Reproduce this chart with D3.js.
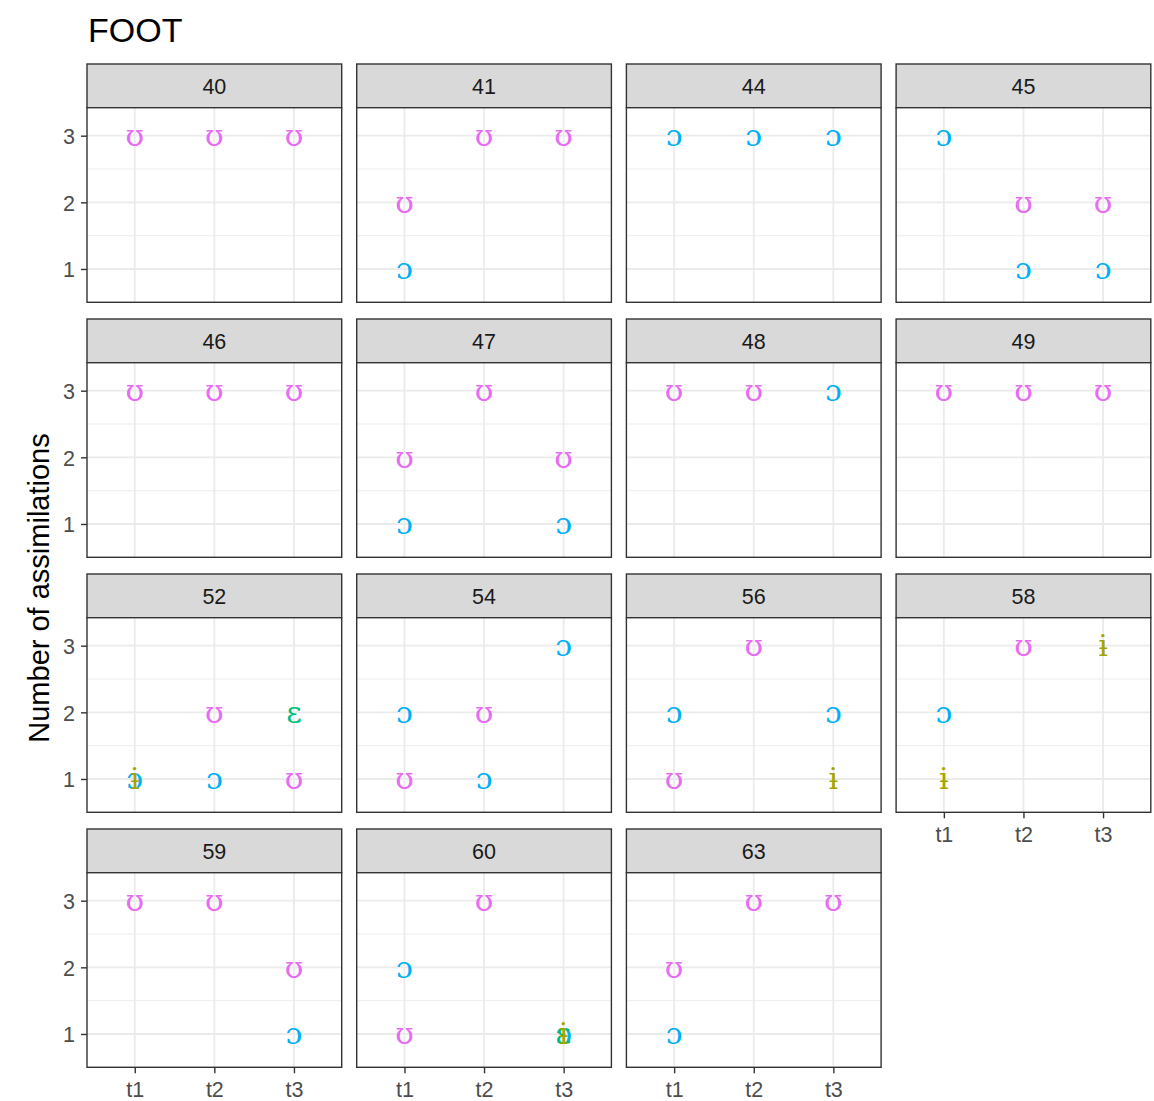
<!DOCTYPE html>
<html>
<head>
<meta charset="utf-8">
<script src="https://cdn.jsdelivr.net/npm/d3@7"></script>
<style>
  body { margin: 0; background: #fff; }
  svg text { font-family: "Liberation Sans", Arial, sans-serif; }
</style>
</head>
<body>
<svg id="chart" width="1154" height="1101"></svg>
<script>
const speakers = ["40", "41", "44", "45", "46", "47", "48", "49", "52", "54", "56", "58", "59", "60", "63"];
const times = ["t1", "t2", "t3"];
const yTicks = [1, 2, 3];
const yMinor = [1.5, 2.5];
const vowels = ["ɨ", "ɛ", "ɔ", "ʊ"];
const vowelColours = ["#A3A500", "#00BF7D", "#00B0F6", "#E76BF3"];

// speaker, time, number of assimilations, vowel
const assimilations = [
  ["40", "t1", 3, "ʊ"], ["40", "t2", 3, "ʊ"], ["40", "t3", 3, "ʊ"],
  ["41", "t1", 2, "ʊ"], ["41", "t1", 1, "ɔ"], ["41", "t2", 3, "ʊ"], ["41", "t3", 3, "ʊ"],
  ["44", "t1", 3, "ɔ"], ["44", "t2", 3, "ɔ"], ["44", "t3", 3, "ɔ"],
  ["45", "t1", 3, "ɔ"], ["45", "t2", 2, "ʊ"], ["45", "t2", 1, "ɔ"], ["45", "t3", 2, "ʊ"], ["45", "t3", 1, "ɔ"],
  ["46", "t1", 3, "ʊ"], ["46", "t2", 3, "ʊ"], ["46", "t3", 3, "ʊ"],
  ["47", "t1", 2, "ʊ"], ["47", "t1", 1, "ɔ"], ["47", "t2", 3, "ʊ"], ["47", "t3", 2, "ʊ"], ["47", "t3", 1, "ɔ"],
  ["48", "t1", 3, "ʊ"], ["48", "t2", 3, "ʊ"], ["48", "t3", 3, "ɔ"],
  ["49", "t1", 3, "ʊ"], ["49", "t2", 3, "ʊ"], ["49", "t3", 3, "ʊ"],
  ["52", "t1", 1, "ɔ"], ["52", "t1", 1, "ɨ"], ["52", "t2", 2, "ʊ"], ["52", "t2", 1, "ɔ"], ["52", "t3", 2, "ɛ"], ["52", "t3", 1, "ʊ"],
  ["54", "t1", 2, "ɔ"], ["54", "t1", 1, "ʊ"], ["54", "t2", 2, "ʊ"], ["54", "t2", 1, "ɔ"], ["54", "t3", 3, "ɔ"],
  ["56", "t1", 2, "ɔ"], ["56", "t1", 1, "ʊ"], ["56", "t2", 3, "ʊ"], ["56", "t3", 2, "ɔ"], ["56", "t3", 1, "ɨ"],
  ["58", "t1", 2, "ɔ"], ["58", "t1", 1, "ɨ"], ["58", "t2", 3, "ʊ"], ["58", "t3", 3, "ɨ"],
  ["59", "t1", 3, "ʊ"], ["59", "t2", 3, "ʊ"], ["59", "t3", 2, "ʊ"], ["59", "t3", 1, "ɔ"],
  ["60", "t1", 2, "ɔ"], ["60", "t1", 1, "ʊ"], ["60", "t2", 3, "ʊ"], ["60", "t3", 1, "ɔ"], ["60", "t3", 1, "ɛ"], ["60", "t3", 1, "ɨ"],
  ["63", "t1", 2, "ʊ"], ["63", "t1", 1, "ɔ"], ["63", "t2", 3, "ʊ"], ["63", "t3", 3, "ʊ"]
];

const nCol = 4;
const left0 = 87, top0 = 64;
const colStep = 269.7, rowStep = 255;
const panelW = 254.7, stripH = 43.7, plotH = 194.6;

const svg = d3.select("#chart");

const x = d3.scalePoint().domain(times).range([0, panelW]).padding(0.6);
const y = d3.scaleLinear().domain([0.5, 3.42]).range([plotH, 0]);
const colour = d3.scaleOrdinal().domain(vowels).range(vowelColours);

svg.append("text")
  .attr("x", 88).attr("y", 42)
  .style("font-size", "34px")
  .style("fill", "#000")
  .text("FOOT");

svg.append("text")
  .attr("transform", `translate(49, 588) rotate(-90)`)
  .attr("text-anchor", "middle")
  .style("font-size", "29px")
  .style("fill", "#000")
  .text("Number of assimilations");

speakers.forEach((sp, i) => {
  const col = i % nCol, row = Math.floor(i / nCol);
  const g = svg.append("g")
    .attr("transform", `translate(${left0 + col * colStep}, ${top0 + row * rowStep})`);

  // strip
  g.append("rect")
    .attr("width", panelW).attr("height", stripH)
    .attr("fill", "#D9D9D9").attr("stroke", "#333333").attr("stroke-width", 1.4);
  g.append("text")
    .attr("x", panelW / 2).attr("y", stripH / 2 + 1)
    .attr("text-anchor", "middle").attr("dominant-baseline", "central")
    .style("font-size", "21.5px").style("fill", "#1A1A1A")
    .text(sp);

  const p = g.append("g").attr("transform", `translate(0, ${stripH})`);
  p.append("rect").attr("width", panelW).attr("height", plotH).attr("fill", "#fff");

  p.selectAll(".minor").data(yMinor).enter().append("line")
    .attr("x1", 0).attr("x2", panelW)
    .attr("y1", d => y(d)).attr("y2", d => y(d))
    .attr("stroke", "#EBEBEB").attr("stroke-width", 0.9);
  p.selectAll(".hmajor").data(yTicks).enter().append("line")
    .attr("x1", 0).attr("x2", panelW)
    .attr("y1", d => y(d)).attr("y2", d => y(d))
    .attr("stroke", "#EBEBEB").attr("stroke-width", 1.8);
  p.selectAll(".vmajor").data(times).enter().append("line")
    .attr("x1", d => x(d)).attr("x2", d => x(d))
    .attr("y1", 0).attr("y2", plotH)
    .attr("stroke", "#EBEBEB").attr("stroke-width", 1.8);

  p.selectAll(".lab").data(assimilations.filter(d => d[0] === sp)).enter().append("text")
    .attr("x", d => x(d[1])).attr("y", d => y(d[2]))
    .attr("text-anchor", "middle").attr("dominant-baseline", "central")
    .style("font-family", "'DejaVu Serif', serif")
    .style("font-size", "30px")
    .style("fill", d => colour(d[3]))
    .text(d => d[3]);

  p.append("rect").attr("width", panelW).attr("height", plotH)
    .attr("fill", "none").attr("stroke", "#333333").attr("stroke-width", 1.4);

  if (col === 0) {
    const ax = p.append("g")
      .call(d3.axisLeft(y).tickValues(yTicks).tickSize(6).tickPadding(6).tickFormat(d3.format("d")));
    ax.select(".domain").remove();
    ax.selectAll("line").attr("stroke", "#333333").attr("stroke-width", 1.4);
    ax.selectAll("text").style("font-size", "21.5px").style("fill", "#4D4D4D")
      .attr("dy", "0.36em");
  }
  if (i + nCol >= speakers.length) {
    const ax = p.append("g").attr("transform", `translate(0, ${plotH})`)
      .call(d3.axisBottom(x).tickSize(6).tickPadding(8));
    ax.select(".domain").remove();
    ax.selectAll("line").attr("stroke", "#333333").attr("stroke-width", 1.4);
    ax.selectAll("text").style("font-size", "21.5px").style("fill", "#4D4D4D");
  }
});
</script>
</body>
</html>
